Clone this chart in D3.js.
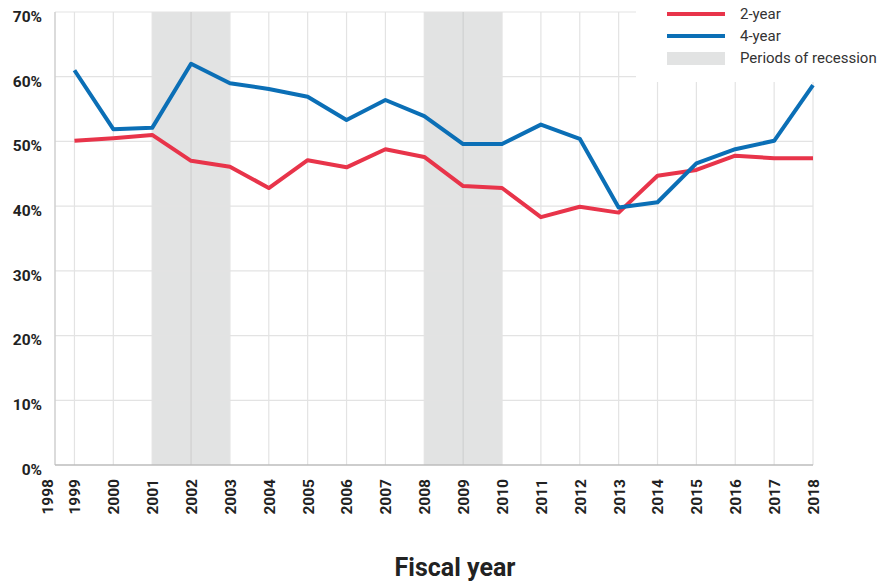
<!DOCTYPE html>
<html><head><meta charset="utf-8">
<script src="https://cdn.jsdelivr.net/npm/d3@7"></script>
<style>body{margin:0;background:#fff;font-family:Roboto,"Open Sans",sans-serif}</style>
</head><body><svg id="c" width="881" height="583"></svg>
<script>
const years = [1999,2000,2001,2002,2003,2004,2005,2006,2007,2008,2009,2010,2011,2012,2013,2014,2015,2016,2017,2018];
const twoYear = [50.1,50.5,51.0,47.0,46.1,42.8,47.1,46.0,48.8,47.6,43.1,42.8,38.3,39.9,39.0,44.7,45.6,47.8,47.4,47.4];
const fourYear = [61.0,51.9,52.1,62.0,59.0,58.1,56.9,53.3,56.4,53.9,49.6,49.6,52.6,50.4,39.8,40.6,46.6,48.8,50.1,58.7];
const recessions = [[2001,2003],[2008,2010]];
const yTicks = [0,10,20,30,40,50,60,70];
const xTickLabels = [1998,1999,2000,2001,2002,2003,2004,2005,2006,2007,2008,2009,2010,2011,2012,2013,2014,2015,2016,2017,2018];
const legendItems = [{label:"2-year",type:"line",color:"#e8344a"},{label:"4-year",type:"line",color:"#0b6fb6"},{label:"Periods of recession",type:"rect",color:"#e2e3e3"}];

const svg = d3.select("#c");
const m = {l:55,r:68,t:12,b:118};
const W = 881, H = 583;
const x = d3.scaleLinear().domain([1998.5,2018]).range([m.l, W-m.r]);
const y = d3.scaleLinear().domain([0,70]).range([H-m.b, m.t]);

// recession shading
svg.append("g").selectAll("rect").data(recessions).join("rect")
  .attr("x", d=>x(d[0])).attr("width", d=>x(d[1])-x(d[0]))
  .attr("y", y(70)).attr("height", y(0)-y(70)).attr("fill","#e2e3e3");

// grid
svg.append("g").selectAll("line").data(yTicks.slice(1)).join("line")
  .attr("x1", m.l).attr("x2", W-m.r).attr("y1", d=>y(d)).attr("y2", d=>y(d))
  .attr("stroke","#e3e3e3").attr("stroke-width",1.2);
svg.append("g").selectAll("line").data(years).join("line")
  .attr("x1", d=>x(d)).attr("x2", d=>x(d)).attr("y1", y(70)).attr("y2", y(0))
  .attr("stroke", d=> (d===2002||d===2009) ? "#cfd0d0" : "#e3e3e3").attr("stroke-width",1.2);

// axis lines
svg.append("line").attr("x1",m.l).attr("x2",m.l).attr("y1",y(70)).attr("y2",y(0)).attr("stroke","#cfcfcf").attr("stroke-width",1.5);
svg.append("line").attr("x1",m.l).attr("x2",W-m.r).attr("y1",y(0)).attr("y2",y(0)).attr("stroke","#bdbdbd").attr("stroke-width",1.5);

// y labels
const yAxis = d3.axisLeft(y).tickValues(yTicks).tickFormat(d=>d+"%").tickSize(0).tickPadding(13);
const ya = svg.append("g").attr("transform",`translate(${m.l},0)`).call(yAxis);
ya.select(".domain").remove();
ya.selectAll("text").attr("font-family","Roboto").attr("font-weight","bold").attr("font-size","15.5px").attr("fill","#222").attr("dy","0.6em");

// x labels
const xVals = xTickLabels.map(d=> d===1998 ? 1998.5 : d);
const xAxis = d3.axisBottom(x).tickValues(xVals).tickFormat(d=>Math.floor(d)).tickSize(0).tickPadding(0);
const xa = svg.append("g").attr("transform",`translate(0,${y(0)})`).call(xAxis);
xa.select(".domain").remove();
xa.selectAll("text").attr("font-family","Roboto").attr("font-weight","bold").attr("font-size","15.5px").attr("fill","#222")
  .attr("transform","rotate(-90)").attr("text-anchor","end").attr("x",-14).attr("y",0).attr("dy","0.35em");
xa.selectAll(".tick").filter(d=>d===1998.5).attr("transform",`translate(${x(1998.5)-7},0)`);

// lines
const line = d3.line().x((d,i)=>x(years[i])).y(d=>y(d));
svg.append("path").datum(twoYear).attr("d",line).attr("fill","none").attr("stroke","#e8344a").attr("stroke-width",4).attr("stroke-linejoin","round");
svg.append("path").datum(fourYear).attr("d",line).attr("fill","none").attr("stroke","#0b6fb6").attr("stroke-width",4).attr("stroke-linejoin","round");

// legend
const lg = svg.append("g");
lg.append("rect").attr("x",636).attr("y",0).attr("width",245).attr("height",82).attr("fill","#fff");
legendItems.forEach((it,i)=>{
  const cy = 14 + i*22;
  if(it.type==="line") lg.append("line").attr("x1",667).attr("x2",725).attr("y1",cy).attr("y2",cy).attr("stroke",it.color).attr("stroke-width",4);
  else lg.append("rect").attr("x",667).attr("y",cy-6).attr("width",58).attr("height",13).attr("fill",it.color);
  lg.append("text").attr("x",740).attr("y",cy).attr("dy","0.35em").attr("font-family","Roboto").attr("font-size","15px").attr("fill","#333").text(it.label);
});

// x title
svg.append("text").attr("x",455).attr("y",576).attr("text-anchor","middle").attr("font-family","Roboto").attr("font-weight","bold").attr("font-size","25px").attr("fill","#222").text("Fiscal year");
</script></body></html>
